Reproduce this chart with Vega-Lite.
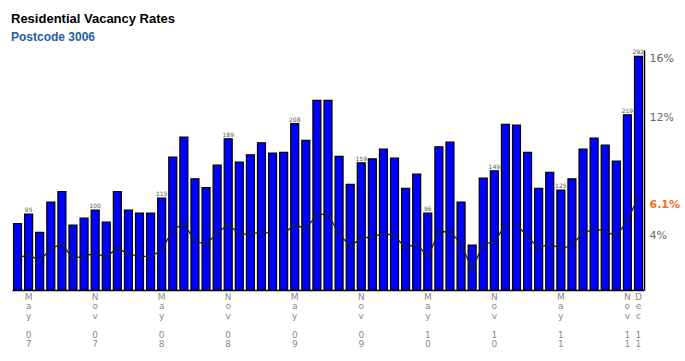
{
  "$schema": "https://vega.github.io/schema/vega-lite/v6.json",
  "autosize": {"type": "none"},
  "padding": {"left": 12, "top": 50, "right": 41, "bottom": 71},
  "width": 632,
  "height": 240,
  "background": "white",
  "title": {
    "text": "Residential Vacancy Rates",
    "subtitle": "Postcode 3006",
    "anchor": "start",
    "frame": "group",
    "font": "Liberation Sans",
    "fontSize": 13,
    "fontWeight": "bold",
    "color": "#000000",
    "subtitleFont": "Liberation Sans",
    "subtitleFontSize": 12,
    "subtitleFontWeight": "bold",
    "subtitleColor": "#1f5fa6",
    "subtitlePadding": 6,
    "offset": 6,
    "dx": -1
  },
  "config": {"view": {"stroke": null}},
  "data": {
    "values": [
      {"month": "Apr 07", "count": 83, "rate": 2.47, "seg": 1},
      {"month": "May 07", "count": 95, "rate": 2.74, "seg": 1, "label": "95"},
      {"month": "Jun 07", "count": 72, "rate": 2.28, "seg": 1},
      {"month": "Jul 07", "count": 110, "rate": 3.15, "seg": 1},
      {"month": "Aug 07", "count": 123, "rate": 3.42, "seg": 1},
      {"month": "Sep 07", "count": 81, "rate": 2.47, "seg": 1},
      {"month": "Oct 07", "count": 90, "rate": 2.62, "seg": 1},
      {"month": "Nov 07", "count": 100, "rate": 2.81, "seg": 1, "label": "100"},
      {"month": "Dec 07", "count": 85, "rate": 2.54, "seg": 1},
      {"month": "Jan 08", "count": 123, "rate": 3.19, "seg": 1},
      {"month": "Feb 08", "count": 100, "rate": 2.74, "seg": 1},
      {"month": "Mar 08", "count": 96, "rate": 2.62, "seg": 1},
      {"month": "Apr 08", "count": 96, "rate": 2.58, "seg": 1},
      {"month": "May 08", "count": 115, "rate": 3.03, "seg": 1, "label": "115"},
      {"month": "Jun 08", "count": 166, "rate": 4.39, "seg": 1},
      {"month": "Jul 08", "count": 191, "rate": 4.84, "seg": 1},
      {"month": "Aug 08", "count": 139, "rate": 3.64, "seg": 1},
      {"month": "Sep 08", "count": 128, "rate": 3.42, "seg": 1},
      {"month": "Oct 08", "count": 156, "rate": 4.16, "seg": 1},
      {"month": "Nov 08", "count": 189, "rate": 4.77, "seg": 1, "label": "189"},
      {"month": "Dec 08", "count": 160, "rate": 4.12, "seg": 1},
      {"month": "Jan 09", "count": 169, "rate": 4.10, "seg": 1},
      {"month": "Feb 09", "count": 184, "rate": 4.27, "seg": 1},
      {"month": "Mar 09", "count": 171, "rate": 4.12, "seg": 1},
      {"month": "Apr 09", "count": 172, "rate": 4.12, "seg": 2},
      {"month": "May 09", "count": 208, "rate": 4.77, "seg": 2, "label": "208"},
      {"month": "Jun 09", "count": 187, "rate": 4.45, "seg": 2},
      {"month": "Jul 09", "count": 237, "rate": 5.45, "seg": 2},
      {"month": "Aug 09", "count": 237, "rate": 5.45, "seg": 2},
      {"month": "Sep 09", "count": 167, "rate": 4.12, "seg": 2},
      {"month": "Oct 09", "count": 132, "rate": 3.30, "seg": 2},
      {"month": "Nov 09", "count": 159, "rate": 3.82, "seg": 2, "label": "159"},
      {"month": "Dec 09", "count": 164, "rate": 3.93, "seg": 2},
      {"month": "Jan 10", "count": 176, "rate": 4.16, "seg": 2},
      {"month": "Feb 10", "count": 165, "rate": 4.00, "seg": 2},
      {"month": "Mar 10", "count": 127, "rate": 3.15, "seg": 2},
      {"month": "Apr 10", "count": 145, "rate": 3.48, "seg": 2},
      {"month": "May 10", "count": 96, "rate": 2.54, "seg": 2, "label": "96"},
      {"month": "Jun 10", "count": 179, "rate": 4.27, "seg": 2},
      {"month": "Jul 10", "count": 185, "rate": 4.27, "seg": 2},
      {"month": "Aug 10", "count": 110, "rate": 3.48, "seg": 2},
      {"month": "Sep 10", "count": 56, "rate": 1.67, "seg": 2},
      {"month": "Oct 10", "count": 140, "rate": 3.48, "seg": 2},
      {"month": "Nov 10", "count": 149, "rate": 3.55, "seg": 2, "label": "149"},
      {"month": "Dec 10", "count": 207, "rate": 4.77, "seg": 2},
      {"month": "Jan 11", "count": 206, "rate": 4.77, "seg": 3},
      {"month": "Feb 11", "count": 172, "rate": 3.93, "seg": 3},
      {"month": "Mar 11", "count": 127, "rate": 3.15, "seg": 3},
      {"month": "Apr 11", "count": 147, "rate": 3.48, "seg": 3},
      {"month": "May 11", "count": 125, "rate": 3.10, "seg": 3, "label": "125"},
      {"month": "Jun 11", "count": 139, "rate": 3.37, "seg": 3},
      {"month": "Jul 11", "count": 176, "rate": 4.20, "seg": 3},
      {"month": "Aug 11", "count": 190, "rate": 4.43, "seg": 3},
      {"month": "Sep 11", "count": 181, "rate": 4.34, "seg": 3},
      {"month": "Oct 11", "count": 161, "rate": 3.93, "seg": 3},
      {"month": "Nov 11", "count": 219, "rate": 5.06, "seg": 3, "label": "219"},
      {"month": "Dec 11", "count": 292, "rate": 6.60, "seg": 3, "label": "292"}
    ]
  },
  "layer": [
    {
      "mark": {"type": "bar", "color": "#0000ff", "stroke": "#000000", "strokeWidth": 1.2},
      "encoding": {
        "x": {
          "field": "month",
          "type": "nominal",
          "sort": null,
          "scale": {"paddingInner": 0.28, "paddingOuter": 0.14},
          "axis": {
            "orient": "bottom",
            "title": null,
            "labelAngle": 0,
            "ticks": false,
            "domainColor": "#000000",
            "domainWidth": 1.5,
            "labelFont": "DejaVu Sans",
            "labelFontSize": 9,
            "labelColor": "#8a8a8a",
            "labelLineHeight": 9.6,
            "labelPadding": 2,
            "labelBaseline": "top",
            "labelOverlap": false,
            "labelExpr": "(slice(datum.value,0,3) == 'May' || slice(datum.value,0,3) == 'Nov' || datum.value == 'Dec 11') ? [slice(datum.value,0,1), slice(datum.value,1,2), slice(datum.value,2,3)] : ''"
          }
        },
        "y": {"field": "count", "type": "quantitative", "scale": {"domain": [0, 300], "nice": false}, "axis": null}
      }
    },
    {
      "transform": [{"filter": "datum.label != null"}],
      "mark": {"type": "text", "font": "DejaVu Sans", "fontSize": 6, "color": "#555555", "baseline": "bottom", "dy": -1},
      "encoding": {
        "x": {
          "field": "month",
          "type": "nominal",
          "sort": null,
          "axis": {
            "orient": "bottom",
            "title": null,
            "labelAngle": 0,
            "ticks": false,
            "domain": false,
            "labelFont": "DejaVu Sans",
            "labelFontSize": 9,
            "labelColor": "#8a8a8a",
            "labelLineHeight": 9.6,
            "labelPadding": 40,
            "labelBaseline": "top",
            "labelOverlap": false,
            "labelExpr": "(slice(datum.value,0,3) == 'May' || slice(datum.value,0,3) == 'Nov' || datum.value == 'Dec 11') ? [slice(datum.value,4,5), slice(datum.value,5,6)] : ''"
          }
        },
        "y": {"field": "count", "type": "quantitative", "scale": {"domain": [0, 300], "nice": false}, "axis": null},
        "text": {"field": "label"}
      }
    },
    {
      "mark": {"type": "line", "color": "#222222", "strokeWidth": 1.3},
      "encoding": {
        "x": {"field": "month", "type": "nominal", "sort": null, "axis": null},
        "y": {
          "field": "rate",
          "type": "quantitative",
          "scale": {"domain": [0.32, 16.59], "nice": false, "zero": false},
          "axis": {
            "orient": "right",
            "title": null,
            "values": [4, 6.1, 12, 16],
            "labelExpr": "datum.value + '%'",
            "ticks": false,
            "grid": false,
            "domainColor": "#000000",
            "domainWidth": 1.5,
            "labelFont": "DejaVu Sans",
            "labelFontSize": 11,
            "labelPadding": 5,
            "labelColor": {"condition": {"test": "datum.value == 6.1", "value": "#ff6a13"}, "value": "#666666"},
            "labelFontWeight": {"condition": {"test": "datum.value == 6.1", "value": "bold"}, "value": "normal"}
          }
        },
        "detail": {"field": "seg"}
      }
    }
  ],
  "resolve": {"scale": {"y": "independent"}, "axis": {"x": "independent"}}
}
